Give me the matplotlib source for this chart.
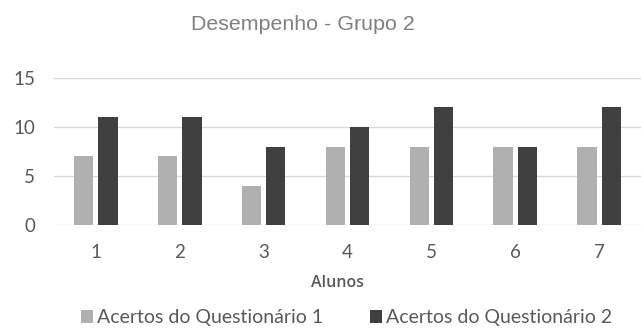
import matplotlib
matplotlib.use("Agg")
import matplotlib.pyplot as plt
from matplotlib.patches import Patch
import numpy as np

alunos = ["1", "2", "3", "4", "5", "6", "7"]
questionario_1 = [7, 7, 4, 8, 8, 8, 8]
questionario_2 = [11, 11, 8, 10, 12, 8, 12]
series_labels = ["Acertos do Questionário 1", "Acertos do Questionário 2"]
y_ticks = [0, 5, 10, 15]

c1 = "#B0B0B0"
c2 = "#404040"
txt = "#595959"

W, H = 641, 329
fig = plt.figure(figsize=(W / 100, H / 100), dpi=100)
ax = fig.add_axes([54 / W, (H - 225) / H, (641 - 54) / W, (225 - 78) / H])

x = np.arange(len(alunos))
bw = 0.23
off = 0.145
ax.bar(x - off, questionario_1, bw, color=c1, zorder=3)
ax.bar(x + off, questionario_2, bw, color=c2, zorder=3)

ax.set_xlim(-0.5, len(alunos) - 0.5)
ax.set_ylim(0, 15)
ax.set_yticks(y_ticks)
ax.set_xticks(x)
ax.set_xticklabels(alunos)
ax.grid(axis="y", color="#D9D9D9", linewidth=1, zorder=0)
ax.set_axisbelow(True)
for s in ax.spines.values():
    s.set_visible(False)
ax.tick_params(length=0, colors=txt, labelsize=13.5)
ax.tick_params(axis="y", pad=13.5)
ax.tick_params(axis="x", pad=13.5)
for lbl in ax.get_xticklabels() + ax.get_yticklabels():
    lbl.set_fontfamily("Lato")

fig.text(302.5 / W, 1 - 25 / H, "Desempenho - Grupo 2", ha="center", va="center",
         fontsize=15.4, color="#808080", family="Liberation Sans")
fig.text(337 / W, 1 - 283 / H, "Alunos", ha="center", va="center",
         fontsize=11.5, color=txt, family="Open Sans", fontweight="semibold")

handles = [Patch(facecolor=c1), Patch(facecolor=c2)]
fig.legend(handles, series_labels, loc="center", bbox_to_anchor=(346.5 / W, 1 - 318 / H),
           ncol=2, frameon=False, handlelength=0.62, handleheight=0.62,
           handletextpad=0.2, columnspacing=2.4, labelcolor=txt,
           borderpad=0, prop={"family": "Lato", "size": 14})

fig.savefig("out.png", dpi=100)
